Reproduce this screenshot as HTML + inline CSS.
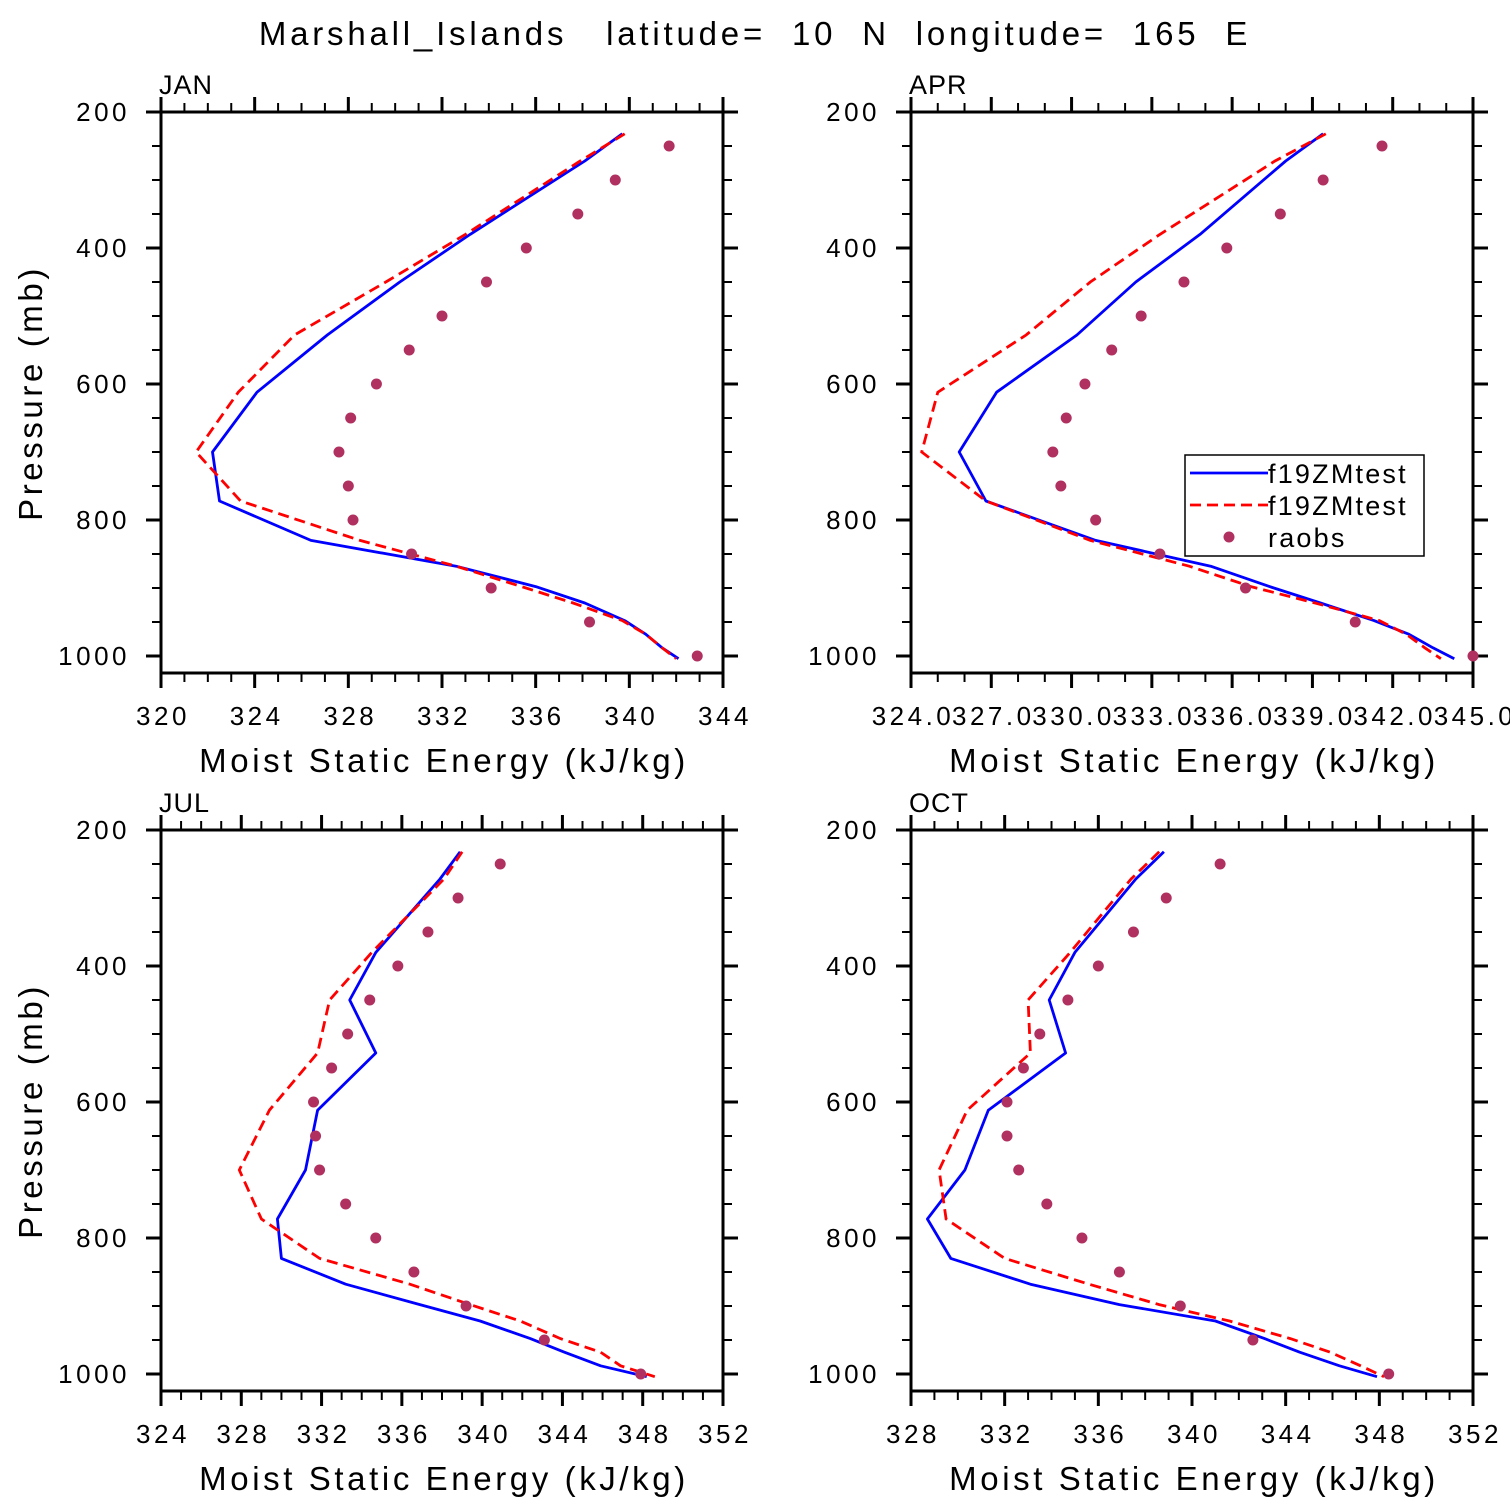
<!DOCTYPE html>
<html><head><meta charset="utf-8">
<style>
html,body{margin:0;padding:0;background:#fff;}
svg{display:block;font-family:"Liberation Sans","DejaVu Sans",sans-serif;}
</style></head>
<body>
<svg id="chart" width="1510" height="1510" viewBox="0 0 1510 1510" xmlns="http://www.w3.org/2000/svg">
<rect x="0" y="0" width="1510" height="1510" fill="#fff"/>
<text x="755" y="45" text-anchor="middle" font-size="33" letter-spacing="3.8" xml:space="preserve">Marshall_Islands   latitude=  10  N  longitude=  165  E</text>
</svg>
<script>
const levels = [232, 272, 380, 450, 528, 612, 700, 772, 830, 868, 898, 922, 948, 968, 988, 1004];
const raobLevels = [250,300,350,400,450,500,550,600,650,700,750,800,850,900,950,1000];
const yTicks = [200,400,600,800,1000];

const janBlue = [339.7,338.1,333.2,330.2,327.1,324.1,322.2,322.5,326.4,332.6,336.0,338.1,339.8,340.7,341.4,342.1];
const janRed  = [339.8,337.9,333.0,329.6,325.7,323.3,321.5,323.4,328.5,332.6,335.4,337.6,339.7,340.7,341.4,342.0];
const janObs  = [341.7,339.4,337.8,335.6,333.9,332.0,330.6,329.2,328.1,327.6,328.0,328.2,330.7,334.1,338.3,342.9];

const aprBlue = [339.4,338.0,334.8,332.4,330.2,327.2,325.8,326.8,330.9,335.2,337.4,339.3,341.3,342.6,343.5,344.3];
const aprRed  = [339.5,337.6,333.3,330.7,328.3,325.0,324.4,326.8,330.7,334.4,336.7,339.1,341.5,342.5,343.2,343.8];
const aprObs  = [341.6,339.4,337.8,335.8,334.2,332.6,331.5,330.5,329.8,329.3,329.6,330.9,333.3,336.5,340.6,345.0];

const julBlue = [338.9,337.9,334.7,333.4,334.7,331.8,331.2,329.8,330.0,333.2,336.9,339.9,342.4,344.1,345.9,348.2];
const julRed  = [339.0,338.1,334.5,332.4,331.8,329.4,327.9,329.0,331.9,336.4,339.4,341.9,343.9,345.9,346.9,348.6];
const julObs  = [340.9,338.8,337.3,335.8,334.4,333.3,332.5,331.6,331.7,331.9,333.2,334.7,336.6,339.2,343.1,347.9];

const octBlue = [338.8,337.6,335.0,333.9,334.6,331.3,330.3,328.7,329.7,333.1,336.9,341.0,343.1,344.6,346.3,347.9];
const octRed  = [338.6,337.4,334.8,333.0,333.1,330.4,329.2,329.5,332.0,335.6,338.6,341.6,344.2,345.9,347.2,348.2];
const octObs  = [341.2,338.9,337.5,336.0,334.7,333.5,332.8,332.1,332.1,332.6,333.8,335.3,336.9,339.5,342.6,348.4];

const janXTicks = [320,324,328,332,336,340,344];
const aprXTicks = [324,327,330,333,336,339,342,345];
const julXTicks = [324,328,332,336,340,344,348,352];
const octXTicks = [328,332,336,340,344,348,352];

const NS = "http://www.w3.org/2000/svg";
const svg = document.getElementById('chart');
function mk(tag, attrs, parent){
  const e = document.createElementNS(NS, tag);
  for (const k in attrs) e.setAttribute(k, attrs[k]);
  (parent||svg).appendChild(e);
  return e;
}

function panel(cfg){
  const g = mk('g', {});
  
  
  const L = cfg.x0, R = cfg.x0 + 562, T = cfg.y0, B = cfg.y0 + 561;
  const xs = v => L + (v - cfg.xmin) / (cfg.xmax - cfg.xmin) * 562;
  const ys = p => T + (p - 200) * 0.68;
  const tg = mk('g', {stroke:'#000','stroke-width':3}, g);
  
  
  for (let p = 200; p <= 1000; p += 50) {
    const major = p % 200 === 0;
    const len = major ? 15 : 9;
    mk('line', {x1:L-len, x2:L, y1:ys(p), y2:ys(p), 'stroke-width': major?3:2}, tg);
    mk('line', {x1:R, x2:R+len, y1:ys(p), y2:ys(p), 'stroke-width': major?3:2}, tg);
  }
  for (let v = cfg.xmin; v <= cfg.xmax + 0.001; v += 1) {
    const major = cfg.xTicks.some(t => Math.abs(t - v) < 0.001);
    const len = major ? 15 : 9;
    mk('line', {x1:xs(v), x2:xs(v), y1:B, y2:B+len, 'stroke-width': major?3:2}, tg);
    mk('line', {x1:xs(v), x2:xs(v), y1:T-len, y2:T, 'stroke-width': major?3:2}, tg);
  }
  const box = mk('rect', {x:L, y:T, width:562, height:561, fill:'none', stroke:'#000', 'stroke-width':3}, g);
  
  
  yTicks.forEach(p => {
    const t = mk('text', {x:L-31, y:ys(p)+9, 'text-anchor':'end', 'font-size':26, 'letter-spacing':3.5}, g);
    
    
    t.textContent = p;
  });
  cfg.xTicks.forEach(v => {
    const t = mk('text', {x:xs(v)+2, y:B+52, 'text-anchor':'middle', 'font-size':26, 'letter-spacing':3.5}, g);
    
    
    t.textContent = cfg.fmt ? v.toFixed(1) : v;
  });
  const xt = mk('text', {x:L+283, y:B+99, 'text-anchor':'middle', 'font-size':33, 'letter-spacing':3.6}, g);
  
  
  xt.textContent = 'Moist Static Energy (kJ/kg)';
  if (cfg.ylab) {
    const yt = mk('text', {x:0, y:0, 'text-anchor':'middle', 'font-size':33, 'letter-spacing':3.6, transform:`translate(42,${T+281}) rotate(-90)`}, g);
    
    
    yt.textContent = 'Pressure (mb)';
  }
  const mt = mk('text', {x:L-2, y:T-18, 'font-size':27, 'letter-spacing':1}, g);
  
  
  mt.textContent = cfg.name;
  const pts = arr => arr.map((v,i) => xs(v).toFixed(1) + ',' + ys(levels[i]).toFixed(1)).join(' ');
  const bl = mk('polyline', {points:pts(cfg.blue), fill:'none', stroke:'#0000ff', 'stroke-width':2.8, 'stroke-linejoin':'round'}, g);
  
  
  const rl = mk('polyline', {points:pts(cfg.red), fill:'none', stroke:'#ff0000', 'stroke-width':2.8, 'stroke-dasharray':'11,6'}, g);
  
  
  cfg.obs.forEach((v,i) => {
    const c = mk('circle', {cx:xs(v), cy:ys(raobLevels[i]), r:5.5, fill:'#b03060'}, g);
    
    
  });
}

panel({name:'JAN', x0:161, y0:112, xmin:320, xmax:344, xTicks:janXTicks, blue:janBlue, red:janRed, obs:janObs, ylab:true});
panel({name:'APR', x0:911, y0:112, xmin:324, xmax:345, xTicks:aprXTicks, blue:aprBlue, red:aprRed, obs:aprObs, fmt:true});
panel({name:'JUL', x0:161, y0:830, xmin:324, xmax:352, xTicks:julXTicks, blue:julBlue, red:julRed, obs:julObs, ylab:true});
panel({name:'OCT', x0:911, y0:830, xmin:328, xmax:352, xTicks:octXTicks, blue:octBlue, red:octRed, obs:octObs});

const lg = mk('g', {});


mk('rect', {x:1185, y:455, width:239, height:101, fill:'#fff', stroke:'#000', 'stroke-width':1.5}, lg);
const entries = [['f19ZMtest','solid'],['f19ZMtest','dashed'],['raobs','dot']];
entries.forEach((e,i) => {
  const y = 473 + i*32;
  const eg = mk('g', {}, lg);
  
  
  if (e[1] === 'solid') mk('line', {x1:1190, x2:1268, y1:y, y2:y, stroke:'#0000ff', 'stroke-width':2.8}, eg);
  if (e[1] === 'dashed') mk('line', {x1:1190, x2:1268, y1:y, y2:y, stroke:'#ff0000', 'stroke-width':2.8, 'stroke-dasharray':'11,6'}, eg);
  if (e[1] === 'dot') mk('circle', {cx:1229, cy:y, r:5.5, fill:'#b03060'}, eg);
  const t = mk('text', {x:1268, y:y+10, 'font-size':27, 'letter-spacing':2.2}, eg);
  t.textContent = e[0];
});
</script>
</body></html>
